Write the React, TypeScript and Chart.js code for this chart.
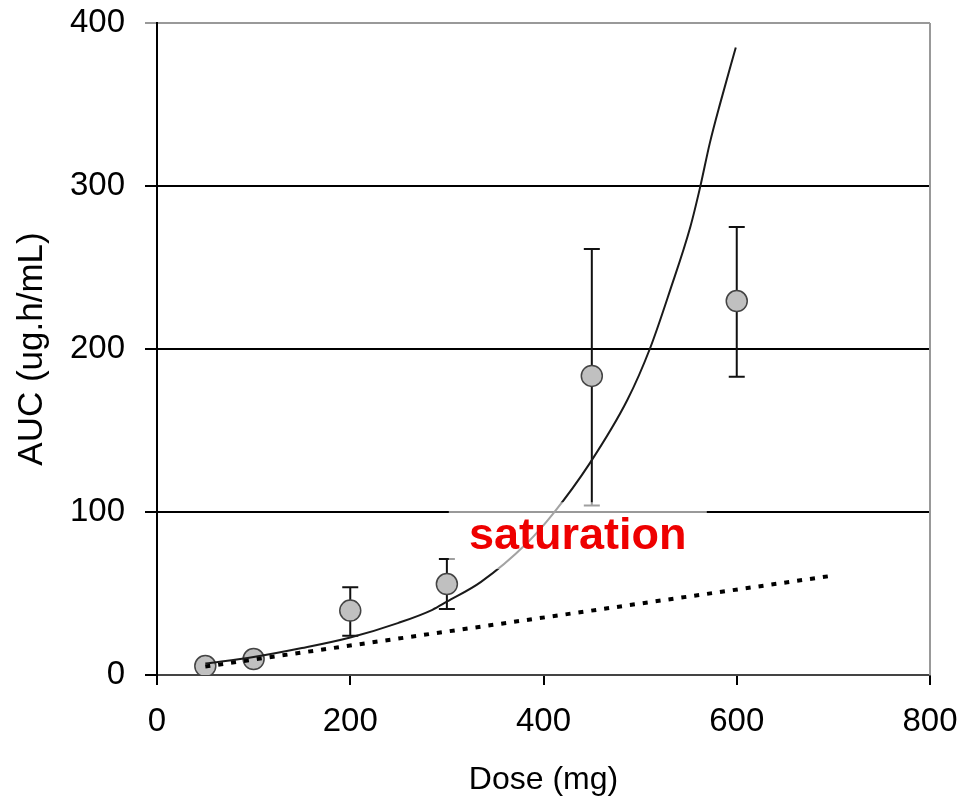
import React, { useEffect, useRef } from "react";
import { Chart, registerables } from "chart.js";

Chart.register(...registerables);

// Observed data
const doses = [50, 100, 200, 300, 450, 600];
const aucMean = [5.5, 9.8, 39.5, 55.8, 183.5, 229.4];
const aucLow = [5.5, 9.8, 24.1, 40.5, 104, 183];
const aucHigh = [5.5, 9.8, 53.8, 71.2, 261.3, 274.8];

// Model curve (non-linear, saturation)
const curveDose = [50, 100, 150, 200, 250, 285, 300, 335, 383, 410, 448, 487, 510, 531, 552, 562, 572, 583, 599];
const curveAuc = [7, 11, 16.5, 23, 32, 40, 45, 57, 81, 99, 130, 169, 200, 236, 275, 299, 326, 351, 385];

// Linear (dose-proportional) line
const linDose = [50, 700];
const linAuc = [5.2, 61];

// Axis ticks
const xTicks = [0, 200, 400, 600, 800];
const yTicks = [0, 100, 200, 300, 400];

// Annotation
const annotationText = "saturation";
const annotationBox = { x0: 302, x1: 569, y0: 65, y1: 106 };

const errorBarPlugin = {
  id: "errorBars",
  beforeDatasetsDraw(chart: any) {
    const { ctx, scales } = chart;
    const xs = scales.x;
    const ys = scales.y;
    ctx.save();
    ctx.strokeStyle = "#111";
    ctx.lineWidth = 2;
    for (let i = 0; i < doses.length; i++) {
      if (aucHigh[i] - aucLow[i] < 1) continue;
      const x = xs.getPixelForValue(doses[i]);
      const yl = ys.getPixelForValue(aucLow[i]);
      const yh = ys.getPixelForValue(aucHigh[i]);
      ctx.beginPath();
      ctx.moveTo(x, yl);
      ctx.lineTo(x, yh);
      ctx.moveTo(x - 8, yl);
      ctx.lineTo(x + 8, yl);
      ctx.moveTo(x - 8, yh);
      ctx.lineTo(x + 8, yh);
      ctx.stroke();
    }
    ctx.restore();
  },
};

const framePlugin = {
  id: "frame",
  afterDraw(chart: any) {
    const { ctx, chartArea } = chart;
    ctx.save();
    ctx.strokeStyle = "#999";
    ctx.lineWidth = 2;
    ctx.beginPath();
    ctx.moveTo(chartArea.right, chartArea.top);
    ctx.lineTo(chartArea.right, chartArea.bottom);
    ctx.stroke();
    ctx.restore();
  },
  afterDatasetsDraw(chart: any) {
    const { ctx, scales } = chart;
    const xs = scales.x;
    const ys = scales.y;
    const bx0 = xs.getPixelForValue(annotationBox.x0);
    const bx1 = xs.getPixelForValue(annotationBox.x1);
    const by0 = ys.getPixelForValue(annotationBox.y1);
    const by1 = ys.getPixelForValue(annotationBox.y0);
    ctx.save();
    ctx.fillStyle = "rgba(255,255,255,0.6)";
    ctx.fillRect(bx0, by0, bx1 - bx0, by1 - by0);
    ctx.fillStyle = "#ee0000";
    ctx.font = "bold 45px 'Liberation Sans', Arial, sans-serif";
    ctx.textAlign = "center";
    ctx.textBaseline = "alphabetic";
    const cx = (bx0 + bx1) / 2;
    ctx.fillText(annotationText, cx, ys.getPixelForValue(77));
    ctx.restore();
  },
};

export default function App() {
  const ref = useRef<HTMLCanvasElement>(null);

  useEffect(() => {
    if (!ref.current) return;
    const font = "'Liberation Sans', Arial, sans-serif";
    const chart = new Chart(ref.current, {
      type: "scatter",
      data: {
        datasets: [
          {
            label: "model",
            data: curveDose.map((d, i) => ({ x: d, y: curveAuc[i] })),
            showLine: true,
            borderColor: "#1a1a1a",
            borderWidth: 2,
            pointRadius: 0,
            cubicInterpolationMode: "monotone",
            order: 0,
          },
          {
            label: "linear",
            data: linDose.map((d, i) => ({ x: d, y: linAuc[i] })),
            showLine: true,
            borderColor: "#000",
            borderWidth: 4,
            borderDash: [5, 8],
            pointRadius: 0,
            order: 0,
          },
          {
            label: "observed",
            data: doses.map((d, i) => ({ x: d, y: aucMean[i] })),
            showLine: false,
            pointRadius: 10.5,
            pointBackgroundColor: "#c0c0c0",
            pointBorderColor: "#444",
            pointBorderWidth: 1.5,
            order: 1,
          },
        ],
      },
      options: {
        responsive: false,
        animation: false,
        devicePixelRatio: 1,
        layout: { padding: { top: 23, right: 31, left: 0, bottom: 0 } },
        plugins: { legend: { display: false }, tooltip: { enabled: false } },
        scales: {
          x: {
            type: "linear",
            min: 0,
            max: 800,
            afterBuildTicks: (s: any) => {
              s.ticks = xTicks.map((v) => ({ value: v }));
            },
            afterFit: (s: any) => {
              s.height = 127;
              s.paddingLeft = 0;
              s.paddingRight = 0;
            },
            ticks: {
              color: "#000",
              font: { family: font, size: 33 },
              padding: 17,
            },
            grid: {
              drawOnChartArea: false,
              tickLength: 10,
              color: "#000",
              lineWidth: 2,
            },
            border: { color: "#444", width: 2 },
            title: {
              display: true,
              text: "Dose (mg)",
              color: "#000",
              font: { family: font, size: 32 },
              padding: { top: 0, bottom: 3 },
            },
          },
          y: {
            type: "linear",
            min: 0,
            max: 400,
            afterBuildTicks: (s: any) => {
              s.ticks = yTicks.map((v) => ({ value: v }));
            },
            afterFit: (s: any) => {
              s.width = 157;
              s.paddingTop = 0;
              s.paddingBottom = 0;
            },
            ticks: {
              color: "#000",
              font: { family: font, size: 33 },
              padding: 20,
            },
            grid: {
              tickLength: 12,
              color: (ctx: any) => (ctx.tick && ctx.tick.value === 400 ? "#999" : "#000"),
              lineWidth: 2,
            },
            border: { color: "#000", width: 2 },
            title: {
              display: true,
              text: "AUC (ug.h/mL)",
              color: "#000",
              font: { family: font, size: 35 },
              padding: { top: 11, bottom: 0 },
            },
          },
        },
      },
      plugins: [errorBarPlugin, framePlugin],
    } as any);
    return () => chart.destroy();
  }, []);

  return (
    <div style={{ position: "absolute", left: 0, top: 0, width: 961, height: 802, background: "#fff" }}>
      <canvas ref={ref} width={961} height={802} style={{ width: 961, height: 802 }} />
    </div>
  );
}
